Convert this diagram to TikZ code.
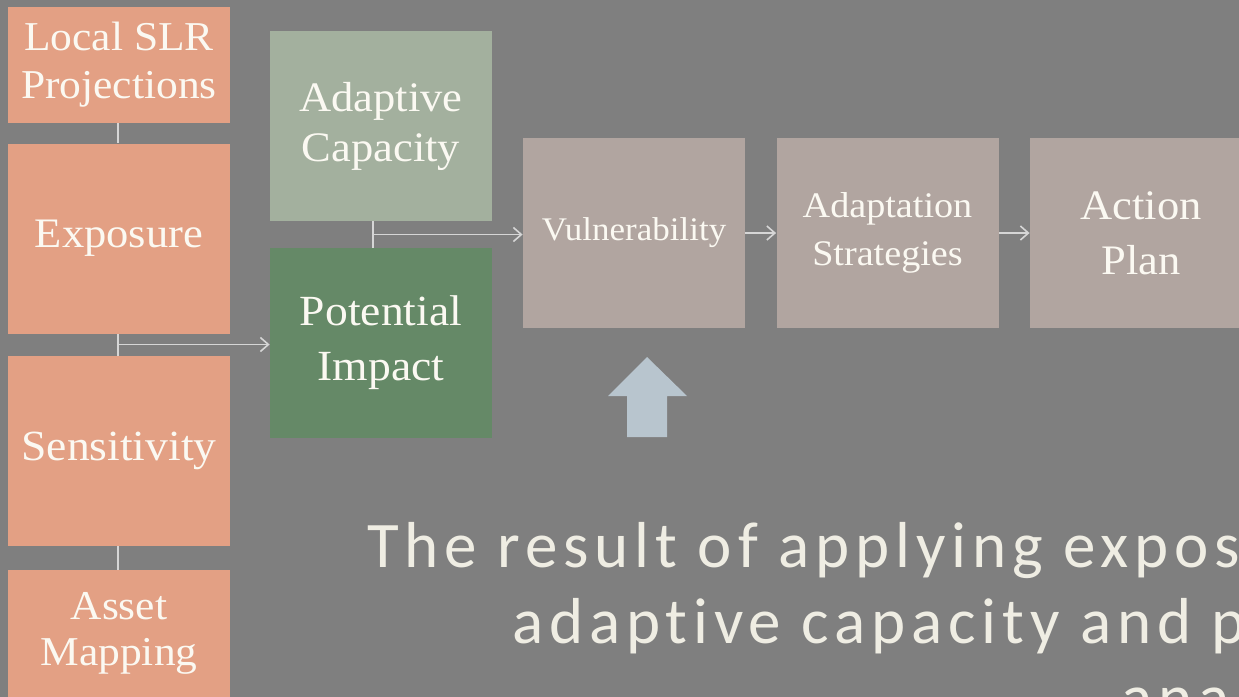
\documentclass[tikz,border=0pt]{standalone}
\usepackage{fontspec}
\setmainfont{Liberation Serif}[FakeStretch=1.06]
\newfontfamily\capfont{Carlito}[LetterSpace=9,Ligatures={NoCommon,NoRequired,NoContextual}]
\usetikzlibrary{arrows.meta}
\definecolor{bg}{HTML}{7F7F7F}
\definecolor{salmon}{HTML}{E3A084}
\definecolor{sage}{HTML}{A3B09E}
\definecolor{darkgreen}{HTML}{658967}
\definecolor{taupe}{HTML}{B1A5A0}
\definecolor{boxtext}{HTML}{FBF9F2}
\definecolor{captext}{HTML}{EFEDE3}
\definecolor{linecol}{HTML}{D6D6D6}
\definecolor{uparrow}{HTML}{B8C5CE}
\begin{document}
\begin{tikzpicture}[x=0.5pt,y=-0.5pt,
  box/.style={rectangle, inner sep=0pt, minimum width=111pt, minimum height=95pt,
    text=boxtext, align=center},
  conn/.style={draw=linecol, line width=0.8pt},
  arr/.style={conn, -{Straight Barb[length=4pt,width=7pt]}},
  captxt/.style={anchor=base west, inner sep=0pt, text=captext,
    font=\capfont\fontsize{32.5}{39}\selectfont}]
\useasboundingbox (0,0) rectangle (1239,697);
\clip (0,0) rectangle (1239,697);
\fill[bg] (0,0) rectangle (1239,697);

% left column
\node[box, fill=salmon, minimum height=58pt, font=\fontsize{20.5}{24}\selectfont] (slr) at (119,65) {Local SLR\\Projections};
\node[box, fill=salmon, font=\fontsize{21}{25}\selectfont] (exp) at (119,238.5) {Exposure};
\node[box, fill=salmon, font=\fontsize{21.5}{25}\selectfont] (sens) at (119,451) {Sensitivity};
\node[box, fill=salmon, minimum height=63.5pt, font=\fontsize{20.5}{23}\selectfont] (asset) at (119,633.5) {Asset\\Mapping};

% middle column
\node[box, fill=sage, font=\fontsize{21}{25}\selectfont] (adcap) at (381,126) {Adaptive\\Capacity};
\node[box, fill=darkgreen, font=\fontsize{21.5}{27.5}\selectfont] (pot) at (381,343) {Potential\\Impact};

% top row
\node[box, fill=taupe, font=\fontsize{16.5}{20}\selectfont] (vul) at (634,233) {Vulnerability};
\node[box, fill=taupe, font=\fontsize{18}{24}\selectfont] (adstr) at (887.5,233) {Adaptation\\Strategies};
\node[box, fill=taupe, font=\fontsize{21}{27.5}\selectfont] (act) at (1141,233) {Action\\Plan};

% connectors
\coordinate (j1) at (118,344.5);
\coordinate (j2) at (373,234.5);
\draw[conn] (slr.south -| j1) -- (exp.north -| j1);
\draw[conn] (exp.south -| j1) -- (sens.north -| j1);
\draw[conn] (sens.south -| j1) -- (asset.north -| j1);
\draw[arr] (j1) -- (j1 -| pot.west);
\draw[conn] (adcap.south -| j2) -- (pot.north -| j2);
\draw[arr] (j2) -- (j2 -| vul.west);
\draw[arr] (vul.east) -- (adstr.west);
\draw[arr] (adstr.east) -- (act.west);

% up arrow
\fill[uparrow] (647,357) -- (687,396) -- (667,396) -- (667,437) -- (627,437) -- (627,396) -- (608,396) -- cycle;

% caption (cut off at the picture edge, as in the reference)
\node[captxt] (cap1) at (367,567) {The result of applying expos};
\node[captxt] (cap2) at (512,643) {adaptive capacity and p};
\node[captxt] (cap3) at (1121,719) {anal};
\end{tikzpicture}
\end{document}
